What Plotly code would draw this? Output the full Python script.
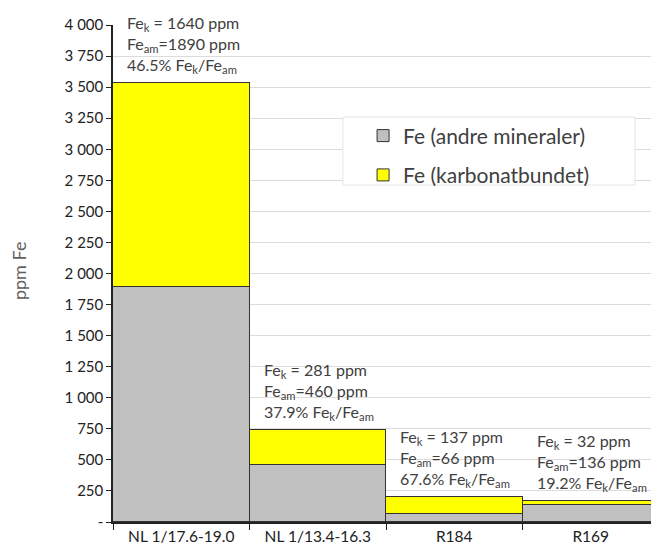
import plotly.graph_objects as go

# Data
samples = ["NL 1/17.6-19.0", "NL 1/13.4-16.3", "R184", "R169"]
fe_other = [1890, 460, 66, 136]        # Fe (andre mineraler)
fe_carbonate = [1640, 281, 137, 32]    # Fe (karbonatbundet)
pct_ratio = [46.5, 37.9, 67.6, 19.2]

y_ticks = [0, 250, 500, 750, 1000, 1250, 1500, 1750, 2000, 2250, 2500,
           2750, 3000, 3250, 3500, 3750, 4000]
y_tick_text = ["-"] + [f"{v:,}".replace(",", " ") for v in y_ticks[1:]]

font_family = "Lato, Open Sans, sans-serif"
text_col = "#404040"
axis_col = "#222222"

fig = go.Figure()
fig.add_trace(go.Bar(
    x=samples, y=fe_other, name="Fe (andre mineraler)", legendgroup="a",
    marker=dict(color="#c0c0c0", line=dict(color="#333333", width=1)),
))
fig.add_trace(go.Bar(
    x=samples, y=fe_carbonate, name="Fe (karbonatbundet)", legendgroup="b",
    marker=dict(color="#ffff00", line=dict(color="#333333", width=1)),
))

# labels above each bar
for i, s in enumerate(samples):
    total = fe_other[i] + fe_carbonate[i]
    txt = (f"Fe<sub>k</sub> = {fe_carbonate[i]} ppm<br>"
           f"Fe<sub>am</sub>={fe_other[i]} ppm<br>"
           f"{pct_ratio[i]}% Fe<sub>k</sub>/Fe<sub>am</sub>")
    fig.add_annotation(
        x=i - 0.41, y=total, xref="x", yref="y",
        text=txt, showarrow=False, xanchor="left", yanchor="bottom",
        align="left", yshift=5,
        font=dict(family=font_family, size=16, color=text_col),
    )

# y axis title
fig.add_annotation(
    x=-0.172, y=0.505, xref="paper", yref="paper", text="ppm Fe",
    textangle=-90, showarrow=False, xanchor="center", yanchor="middle",
    font=dict(family=font_family, size=18, color="#606060"),
)

# legend box
fig.add_shape(type="rect", xref="paper", yref="paper",
              x0=0.421, x1=0.956, y0=0.678, y1=0.815,
              fillcolor="white", line=dict(color="#e4e4e4", width=1),
              layer="above")

# page body adds an 8px offset, so the figure is sized to fit the window
fig.update_layout(
    width=651, height=541,
    margin=dict(l=105, r=0, t=17, b=27),
    barmode="stack", bargap=0,
    paper_bgcolor="white", plot_bgcolor="white",
    font=dict(family=font_family, color=text_col),
    legend=dict(
        x=0.458, y=0.818, xanchor="left", yanchor="top",
        traceorder="grouped", bgcolor="rgba(0,0,0,0)",
        font=dict(size=21, color=text_col), itemwidth=30,
        tracegroupgap=9,
    ),
    xaxis=dict(
        range=[-0.5, 3.5], showgrid=False, showline=True,
        linecolor=axis_col, linewidth=1.5, automargin=False,
        ticks="outside", tickson="boundaries", ticklen=6,
        tickcolor=axis_col,
        tickfont=dict(size=15.5, color=axis_col),
    ),
    yaxis=dict(
        range=[0, 4000], tickvals=y_ticks, ticktext=y_tick_text,
        showgrid=True, gridcolor="#dcdcdc", gridwidth=1,
        showline=True, linecolor=axis_col, linewidth=1.5,
        ticks="outside", ticklen=5, tickcolor=axis_col,
        tickfont=dict(size=15, color=axis_col),
        zeroline=False, automargin=False,
    ),
)

fig.write_html("out.html")
